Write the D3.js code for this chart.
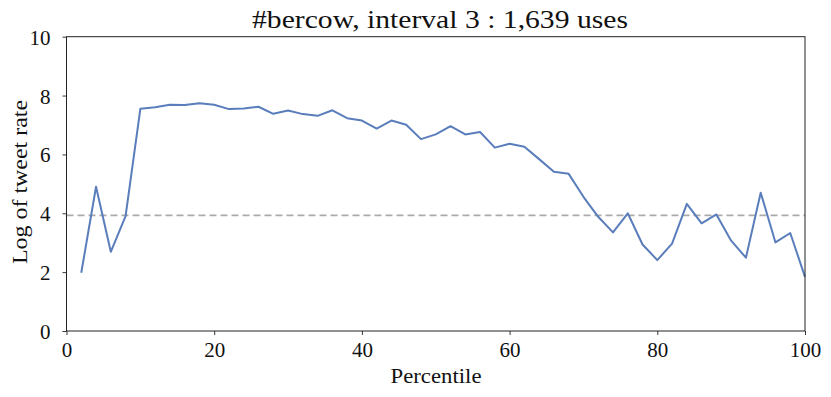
<!DOCTYPE html>
<html><head><meta charset="utf-8">
<script src="https://cdn.jsdelivr.net/npm/d3@7"></script>
<style>body{margin:0;background:#fff}svg{display:block}text{font-family:"Liberation Serif","DejaVu Serif",serif;fill:#111}</style>
</head><body><svg id="c" width="831" height="397"></svg>
<script>
const percentiles = [2,4,6,8,10,12,14,16,18,20,22,24,26,28,30,32,34,36,38,40,42,44,46,48,50,52,54,56,58,60,62,64,66,68,70,72,74,76,78,80,82,84,86,88,90,92,94,96,98,100];
const logRate = [1.98,4.90,2.69,3.90,7.55,7.60,7.69,7.68,7.74,7.69,7.54,7.56,7.62,7.38,7.49,7.37,7.31,7.50,7.23,7.15,6.88,7.15,7.01,6.52,6.68,6.96,6.68,6.76,6.23,6.36,6.26,5.84,5.41,5.34,4.56,3.88,3.35,4.00,2.94,2.41,2.97,4.32,3.66,3.96,3.07,2.49,4.70,3.01,3.33,1.84];
const meanLine = 3.93;
const xTicks = [0,20,40,60,80,100];
const yTicks = [0,2,4,6,8,10];
const title = "#bercow, interval 3 : 1,639 uses";

const svg = d3.select("#c");
const L=66.5,R=805,T=36.7,B=331;
const x = d3.scaleLinear().domain([0,100]).range([L,R]);
const y = d3.scaleLinear().domain([0,10]).range([B,T]);

svg.append("line").attr("x1",x(0)).attr("x2",x(100)).attr("y1",y(meanLine)).attr("y2",y(meanLine))
  .attr("stroke","#aaaaaa").attr("stroke-width",1.7).attr("stroke-dasharray","7,4");

svg.append("path").datum(percentiles.map((p,i)=>[p,logRate[i]]))
  .attr("fill","none").attr("stroke","#5a7dbb").attr("stroke-width",2).attr("stroke-linejoin","round")
  .attr("d", d3.line().x(d=>x(d[0])).y(d=>y(d[1])));

const xa = svg.append("g").attr("transform",`translate(0,${B})`).call(d3.axisBottom(x).tickValues(xTicks).tickSize(4));
const ya = svg.append("g").attr("transform",`translate(${L},0)`).call(d3.axisLeft(y).tickValues(yTicks).tickSize(4).tickPadding(12));
[xa,ya].forEach(a=>{a.select(".domain").remove();a.selectAll("line").attr("stroke","#222").attr("stroke-width",0.9);a.selectAll("text").style("font-size","21px").attr("fill","#111");});
xa.selectAll("text").attr("y",26).attr("dy",0);
ya.selectAll("text").attr("dy","0.36em");

svg.append("rect").attr("x",L).attr("y",T).attr("width",R-L).attr("height",B-T).attr("fill","none").attr("stroke","#222").attr("stroke-width",1);

svg.append("text").attr("x",440).attr("y",28).attr("text-anchor","middle").style("font-size","25px")
  .attr("textLength",376).attr("lengthAdjust","spacingAndGlyphs").text(title);
svg.append("text").attr("x",436).attr("y",383).attr("text-anchor","middle").style("font-size","22px")
  .attr("textLength",91).attr("lengthAdjust","spacingAndGlyphs").text("Percentile");
svg.append("text").attr("transform",`translate(27,182) rotate(-90)`).attr("text-anchor","middle").style("font-size","22px")
  .attr("textLength",164).attr("lengthAdjust","spacingAndGlyphs").text("Log of tweet rate");
</script></body></html>
